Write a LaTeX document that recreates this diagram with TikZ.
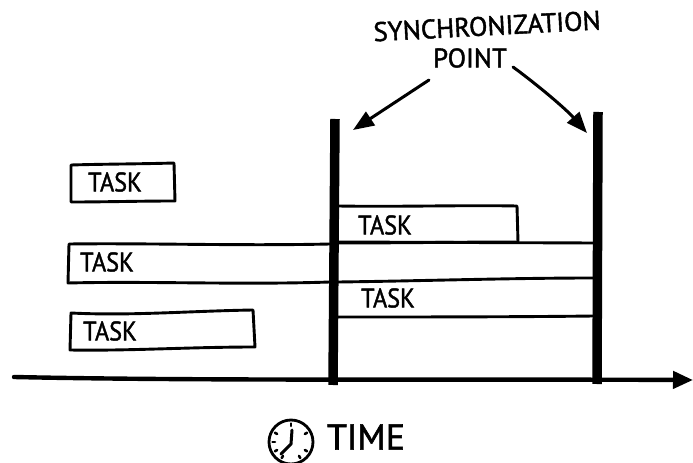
\documentclass[tikz,border=0pt]{standalone}
\usepackage{fontspec}
\setmainfont[FakeBold=1.6]{PT Sans}
\usetikzlibrary{arrows.meta}
\tikzset{
  sketch/.style={line width=2.9bp,line cap=round,line join=round,black},
  barline/.style={line width=9.5bp,line cap=butt,black},
  pointer/.style={line width=3bp,line cap=round,-{Triangle[length=21bp,width=16bp]},black},
  tasklabel/.style={inner sep=0pt,font=\fontsize{27}{27}\selectfont,xscale=.9},
  bigcaption/.style={inner sep=0pt,font=\fontsize{27}{28}\selectfont}
}
\begin{document}
\begin{tikzpicture}[x=1bp,y=-1bp]
\useasboundingbox (0,0) rectangle (693,463);
% task boxes
\draw[sketch] (71,165) .. controls (105,164) and (140,164) .. (174,163) -- (175,201) .. controls (140,201) and (105,202) .. (71,202) -- cycle;
\draw[sketch] (330,244) .. controls (240,246) and (150,243) .. (69,244) -- (68,283) .. controls (150,281) and (240,285) .. (330,282);
\draw[sketch] (338,242) -- (594,243);
\draw[sketch] (338,206) .. controls (400,207) and (460,205) .. (517,206) -- (518,242) .. controls (460,242) and (400,243) .. (338,243);
\draw[sketch] (338,282) .. controls (420,281) and (510,278) .. (594,278);
\draw[sketch] (338,317) .. controls (420,317) and (510,317) .. (594,316);
\draw[sketch] (71,313) .. controls (130,316) and (190,311) .. (253,310) -- (255,347) .. controls (190,347) and (130,351) .. (70,350) -- cycle;
% bars
\coordinate (barAtop) at (335,119);
\coordinate (barAbot) at (333,385);
\coordinate (barBtop) at (598,112);
\coordinate (barBbot) at (597,384);
\draw[barline] (barAtop) -- (barAbot);
\draw[barline] (barBtop) -- (barBbot);
% time axis
\coordinate (axisStart) at (14,377);
\coordinate (axisEnd) at (693,380);
\draw[line width=4.4bp,line cap=round,-{Triangle[length=20bp,width=17bp]}] (axisStart) .. controls (200,381) and (450,379) .. (axisEnd);
% labels
\node[tasklabel] (t1) at (115,182) {TASK};
\node[tasklabel] (t2) at (107,262) {TASK};
\node[tasklabel] (t3) at (385,225) {TASK};
\node[tasklabel] (t4) at (388,298) {TASK};
\node[tasklabel] (t5) at (110,331) {TASK};
\node[bigcaption,rotate=3] (sync) at (487,26) {SYNCHRONIZATION};
\node[bigcaption] (point) at (470,58) {POINT};
\node[inner sep=0pt,font=\fontsize{36}{36}\selectfont] (time) at (366,437) {TIME};
% pointers
\coordinate (tipA) at (353,130);
\coordinate (tipB) at (587,133);
\coordinate (startA) at (429,80);
\coordinate (startB) at (513,67);
\draw[pointer] (startA) -- (tipA);
\draw[pointer] (startB) .. controls (535,83) and (565,108) .. (tipB);
% clock
\coordinate (clock) at (291,442);
\draw[line width=2.8bp,black] (clock) circle[radius=22];
\draw[line width=3bp,line cap=round] (292,430) -- (291,444) -- (281,454);
\foreach \ang in {30,60,120,150,180,210,270,330}
  \draw[line width=2.6bp,line cap=round] (clock) ++({16*cos(\ang)},{16*sin(\ang)}) -- ++({2.5*cos(\ang)},{2.5*sin(\ang)});
\end{tikzpicture}
\end{document}
